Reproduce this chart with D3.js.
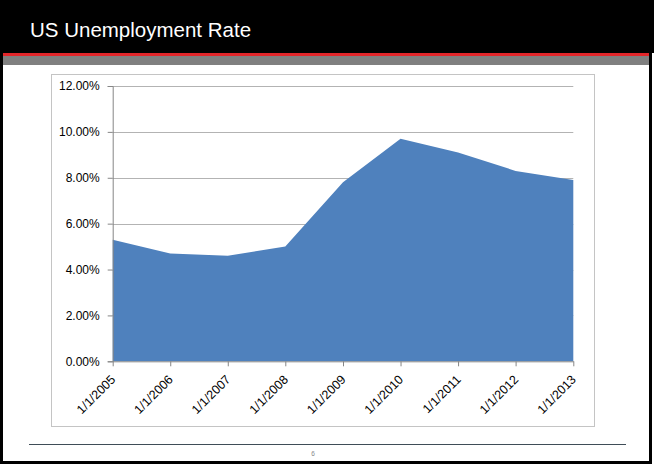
<!DOCTYPE html>
<html>
<head>
<meta charset="utf-8">
<script src="https://cdn.jsdelivr.net/npm/d3@7"></script>
<style>
  html, body { margin: 0; padding: 0; background: #fff; }
  svg { display: block; }
</style>
</head>
<body>
<svg id="chart" width="654" height="465"></svg>
<script>
// values
const dates = ["2005-01-01", "2006-01-01", "2007-01-01", "2008-01-01", "2009-01-01",
               "2010-01-01", "2011-01-01", "2012-01-01", "2013-01-01"];
const rates = [0.053, 0.047, 0.046, 0.050, 0.078, 0.097, 0.091, 0.083, 0.079];
const yTicks = [0, 0.02, 0.04, 0.06, 0.08, 0.10, 0.12];

const parse = d3.timeParse("%Y-%m-%d");
const data = dates.map((d, i) => ({ date: parse(d), value: rates[i] }));

const svg = d3.select("#chart");
const W = 654, H = 465;
const font = "'Liberation Sans', Arial, sans-serif";

// slide frame
svg.append("rect").attr("x", 0).attr("y", 0).attr("width", W).attr("height", 53).attr("fill", "#000");
svg.append("rect").attr("x", 0).attr("y", 53).attr("width", 652).attr("height", 3).attr("fill", "#e3262a");
svg.append("rect").attr("x", 3).attr("y", 56).attr("width", 646).attr("height", 9).attr("fill", "#808080");
svg.append("rect").attr("x", 0).attr("y", 53).attr("width", 3).attr("height", 411).attr("fill", "#000");
svg.append("rect").attr("x", 649).attr("y", 53).attr("width", 3).attr("height", 411).attr("fill", "#000");
svg.append("rect").attr("x", 0).attr("y", 461).attr("width", 652).attr("height", 3).attr("fill", "#000");

svg.append("text")
  .attr("x", 30).attr("y", 37)
  .attr("fill", "#fff")
  .style("font-family", font)
  .style("font-size", "20.5px")
  .text("US Unemployment Rate");

// footer
svg.append("line")
  .attr("x1", 29).attr("x2", 626).attr("y1", 444.5).attr("y2", 444.5)
  .attr("stroke", "#3f4d57").attr("stroke-width", 1);
svg.append("text")
  .attr("x", 313).attr("y", 456)
  .attr("text-anchor", "middle")
  .attr("fill", "#888")
  .style("font-family", font)
  .style("font-size", "6.5px")
  .text("6");

// chart box
svg.append("rect")
  .attr("x", 51.5).attr("y", 74.5).attr("width", 543).attr("height", 352)
  .attr("fill", "#fff").attr("stroke", "#c4c4c4").attr("stroke-width", 1);

const margin = { left: 112.7, right: 573.3, top: 86, bottom: 361.3 };

const x = d3.scaleTime()
  .domain(d3.extent(data, d => d.date))
  .range([margin.left, margin.right]);

const y = d3.scaleLinear()
  .domain([0, 0.12])
  .range([margin.bottom, margin.top]);

// gridlines
svg.append("g")
  .selectAll("line")
  .data(yTicks.slice(1))
  .join("line")
  .attr("x1", margin.left).attr("x2", margin.right)
  .attr("y1", d => Math.round(y(d)) + 0.5).attr("y2", d => Math.round(y(d)) + 0.5)
  .attr("stroke", "#b3b3b3").attr("stroke-width", 1);

// area
const area = d3.area()
  .x(d => x(d.date))
  .y0(y(0))
  .y1(d => y(d.value));

svg.append("path")
  .datum(data)
  .attr("d", area)
  .attr("fill", "#4f81bd");

// y axis
const yAxis = svg.append("g")
  .attr("transform", `translate(${margin.left},0)`)
  .call(d3.axisLeft(y).tickValues(yTicks).tickFormat(d3.format(".2%")).tickSize(5).tickPadding(8));
yAxis.select(".domain").attr("stroke", "#868686");
yAxis.selectAll(".tick line").attr("stroke", "#868686");
yAxis.selectAll("text")
  .attr("fill", "#000")
  .style("font-family", font)
  .style("font-size", "12px");

// x axis, labels slanted like Excel
const fmt = d3.timeFormat("%-m/%-d/%Y");
const xAxis = svg.append("g")
  .attr("transform", `translate(0,${margin.bottom})`)
  .call(d3.axisBottom(x).tickValues(data.map(d => d.date)).tickFormat(fmt).tickSize(5).tickSizeOuter(0));
xAxis.select(".domain").attr("stroke", "#868686");
xAxis.selectAll(".tick line").attr("stroke", "#868686");
xAxis.selectAll("text")
  .attr("fill", "#000")
  .style("font-family", font)
  .style("font-size", "12.5px")
  .attr("text-anchor", "end")
  .attr("x", 0).attr("y", 0).attr("dy", 0)
  .attr("transform", "translate(3,19) rotate(-45)");
</script>
</body>
</html>
